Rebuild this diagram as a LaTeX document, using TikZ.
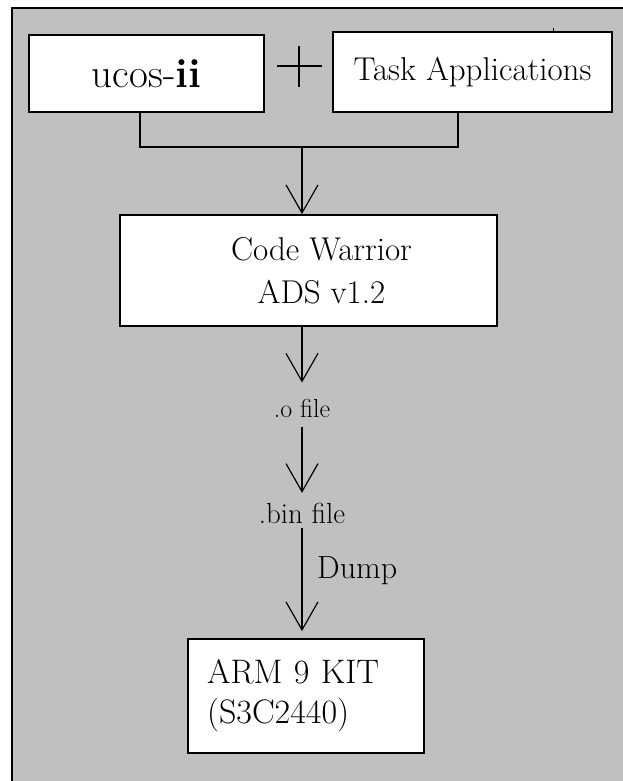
\documentclass[tikz,border=0pt]{standalone}
\usepackage{fontspec}
\usetikzlibrary{arrows.meta}
\definecolor{bggrey}{HTML}{C0C0C0}
\begin{document}
\begin{tikzpicture}[x=1pt,y=-1pt,
  box/.style={draw=black, line width=1.8pt, fill=white, inner sep=0pt},
  lbl/.style={inner sep=0pt},
  conn/.style={line width=1.6pt},
  arr/.style={conn, -{Straight Barb[length=28pt,width=32pt,line width=1.2pt]}},
]
\useasboundingbox (0,0) rectangle (623,781);
\fill[white] (0,0) rectangle (623,781);
\fill[bggrey] (12,8) rectangle (623,781);
\draw[line width=2.2pt] (12,781) -- (12,8) -- (623,8);

% top boxes
\node[box, minimum width=235pt, minimum height=77pt, font=\fontsize{41}{48}\selectfont] (ucos) at (146.5,73.5)
  {ucos-\textbf{ii}};
\node[box, minimum width=279pt, minimum height=80pt, font=\fontsize{33}{40}\selectfont] (task) at (472.5,72)
  {Task Applications};
\draw[line width=1pt] (553,28) -- (553,32);

% plus sign
\draw[conn] (277,66) -- (322,66);
\draw[conn] (299,46) -- (299,87);

% Code Warrior box
\node[box, minimum width=377pt, minimum height=111pt, align=center, font=\fontsize{33}{43}\selectfont] (cw) at (308.5,270.5)
  {\hspace*{26pt}Code Warrior\\ \hspace*{26pt}ADS v1.2};

% merge connector
\coordinate (j) at (302,147);
\draw[conn] ([xshift=-6.5pt]ucos.south) |- (j) -| ([xshift=-14.5pt]task.south);
\draw[arr] (j) -- ([xshift=-6.5pt]cw.north);

% file labels
\node[lbl, anchor=base, font=\fontsize{26}{30}\selectfont] (ofile) at (302,417) {.o file};
\node[lbl, anchor=base, font=\fontsize{29}{34}\selectfont] (bin) at (302,523) {.bin file};
\node[lbl, anchor=base west, font=\fontsize{32}{38}\selectfont] (dump) at (317,578) {Dump};

% ARM box
\node[box, minimum width=236pt, minimum height=114pt, text width=198pt, inner xsep=19pt, align=left, font=\fontsize{34}{40}\selectfont] (arm) at (306,696)
  {ARM 9 KIT\\(S3C2440)};

% arrows
\draw[arr, shorten >=16pt] ([xshift=-6.5pt]cw.south) -- (ofile.north);
\draw[arr, shorten <=10pt, shorten >=9.6pt] (ofile.south) -- (bin.north);
\draw[arr, shorten <=5pt, shorten >=7pt] (bin.south) -- (bin.south |- arm.north);
\end{tikzpicture}
\end{document}
